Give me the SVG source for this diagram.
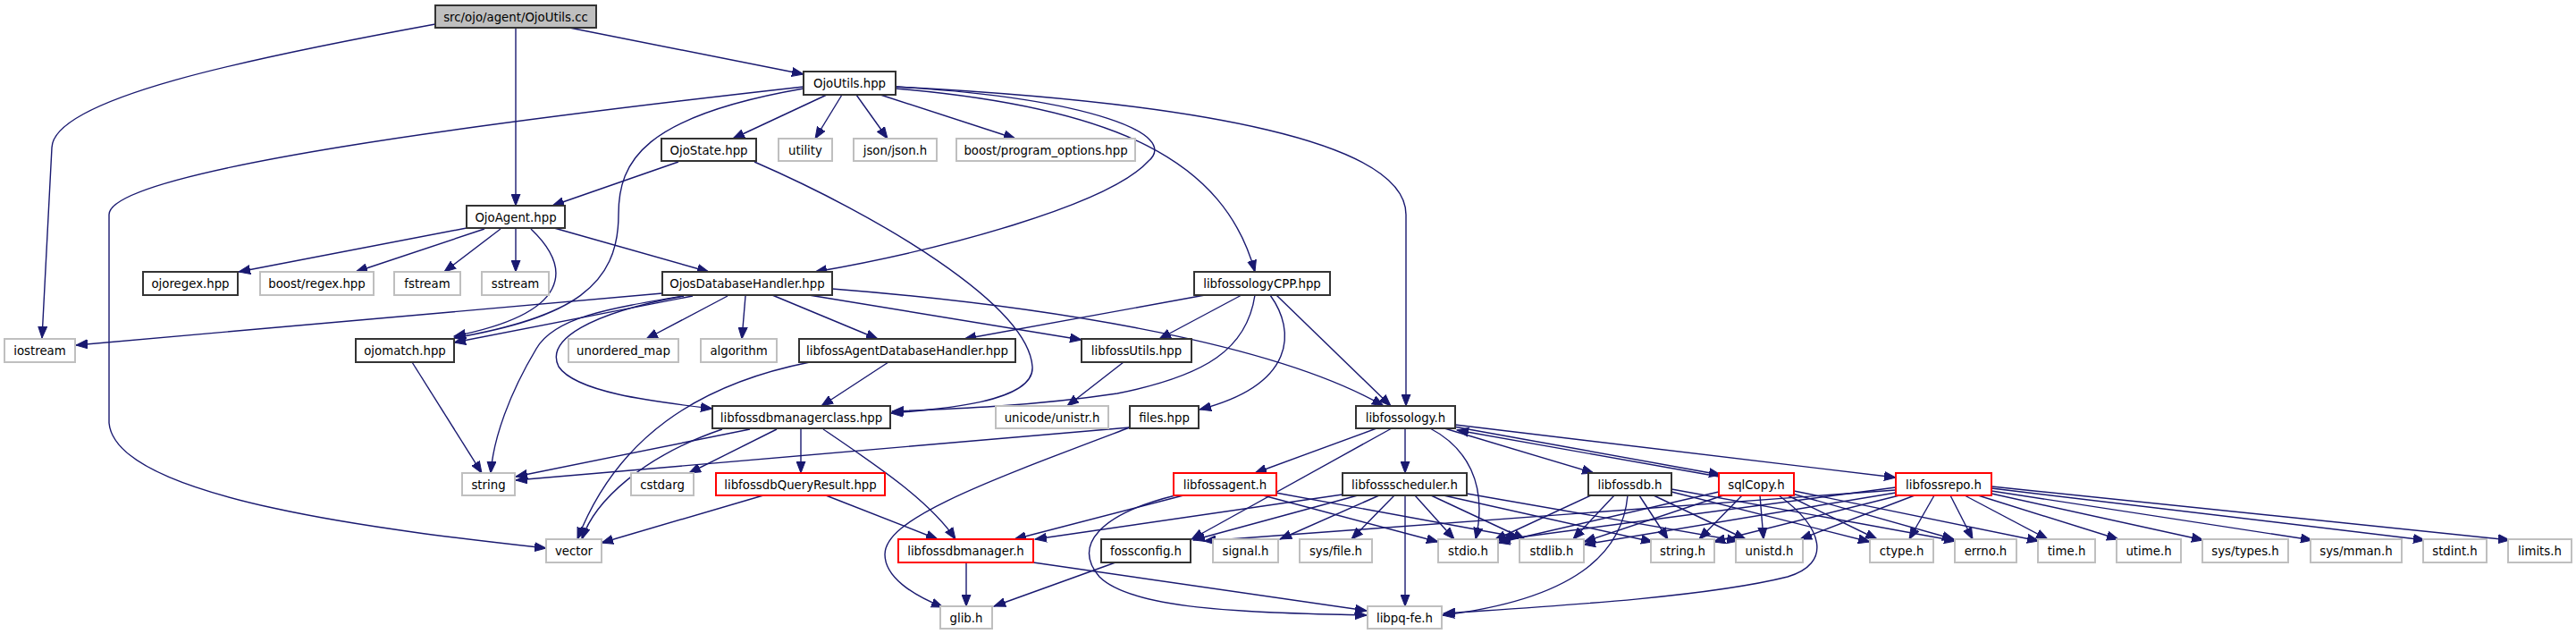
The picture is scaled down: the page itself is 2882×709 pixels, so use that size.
<svg xmlns="http://www.w3.org/2000/svg" width="2882" height="709" viewBox="0 0 2882 709">
<style>
rect{stroke-width:2}
.n{fill:#fff;stroke:#333}
.g{fill:#fff;stroke:#bfbfbf}
.r{fill:#fff;stroke:#ff0000}
.root{fill:#bfbfbf;stroke:#333}
text{font-family:"DejaVu Sans","Liberation Sans",sans-serif;font-size:13.3px;fill:#000;text-anchor:middle}
#edges path{fill:none;stroke:#191970;stroke-width:1.4;marker-end:url(#a)}
</style>
<defs>
<marker id="a" markerUnits="userSpaceOnUse" markerWidth="14" markerHeight="11" refX="13" refY="5.5" orient="auto">
<path d="M0,0.5 L13,5.5 L0,10.5 z" fill="#191970" stroke="#191970" stroke-width="1"/>
</marker>
</defs>
<rect width="2882" height="709" fill="#fff"/>
<g id="edges">
<path d="M487,27 C280,65 60,110 58,165 L47,378"/>
<path d="M577,31 L577,230"/>
<path d="M637,31 L899,83"/>
<path d="M925,106 L820,155"/>
<path d="M942,106 L912,155"/>
<path d="M958,106 L993,155"/>
<path d="M985,106 L1136,155"/>
<path d="M899,97 C560,135 122,190 122,240 L122,473 C130,560 450,595 611,613"/>
<path d="M899,99 C720,130 692,180 692,240 C692,320 640,355 508,378"/>
<path d="M1002,97 C1350,115 1573,160 1573,240 L1573,454"/>
<path d="M1002,99 C1250,120 1370,180 1404,304"/>
<path d="M1002,97 C1220,110 1320,150 1285,180 C1240,230 1050,280 912,304"/>
<path d="M844,181 C980,240 1150,340 1155,410 C1158,450 1050,458 997,462"/>
<path d="M759,181 L618,230"/>
<path d="M522,255 L267,304"/>
<path d="M542,256 L398,304"/>
<path d="M560,256 L497,304"/>
<path d="M577,256 L577,304"/>
<path d="M620,255 L793,304"/>
<path d="M594,256 C640,300 640,350 508,376"/>
<path d="M741,328 L85,386"/>
<path d="M775,331 L508,383"/>
<path d="M765,331 C680,345 620,355 600,390 C570,440 552,490 549,529"/>
<path d="M765,331 C660,350 610,380 625,410 C645,440 740,450 797,457"/>
<path d="M814,331 L723,379"/>
<path d="M834,331 L830,379"/>
<path d="M864,330 L982,379"/>
<path d="M905,330 L1210,380"/>
<path d="M931,323 C1150,340 1420,380 1548,454"/>
<path d="M1348,330 L1079,379"/>
<path d="M1389,330 L1297,379"/>
<path d="M1404,330 C1395,390 1350,420 1250,440 C1150,455 1050,458 998,460"/>
<path d="M1421,330 C1450,370 1450,430 1342,458"/>
<path d="M1428,330 L1556,454"/>
<path d="M994,405 L919,454"/>
<path d="M906,405 C780,430 690,490 646,603"/>
<path d="M1257,405 L1194,454"/>
<path d="M461,405 L539,529"/>
<path d="M839,480 L577,533"/>
<path d="M808,480 C720,510 665,560 651,603"/>
<path d="M869,480 L771,529"/>
<path d="M896,480 L896,529"/>
<path d="M921,480 C980,520 1040,560 1069,603"/>
<path d="M1264,478 L577,537"/>
<path d="M1264,478 C1100,540 990,580 990,620 C990,645 1020,665 1055,679"/>
<path d="M854,554 L673,607"/>
<path d="M924,554 L1049,603"/>
<path d="M1081,629 L1081,678"/>
<path d="M1156,629 L1529,683"/>
<path d="M1248,629 L1112,678"/>
<path d="M1540,479 L1404,529"/>
<path d="M1557,479 L1333,603"/>
<path d="M1572,479 L1572,529"/>
<path d="M1600,479 C1640,500 1665,540 1651,603"/>
<path d="M1616,479 L1783,529"/>
<path d="M1626,477 L1925,531"/>
<path d="M1923,533 L1630,481"/>
<path d="M1628,475 L2121,534"/>
<path d="M1324,554 L1135,603"/>
<path d="M1315,554 C1230,575 1200,610 1230,645 C1270,685 1420,685 1529,688"/>
<path d="M1413,554 L1609,606"/>
<path d="M1427,551 L1700,601"/>
<path d="M1502,553 L1158,603"/>
<path d="M1519,554 L1335,604"/>
<path d="M1543,554 L1432,603"/>
<path d="M1560,554 L1512,603"/>
<path d="M1572,554 L1572,678"/>
<path d="M1583,554 L1627,603"/>
<path d="M1601,554 L1706,603"/>
<path d="M1615,554 L1849,606"/>
<path d="M1641,552 L1945,605"/>
<path d="M1780,554 L1672,604"/>
<path d="M1806,554 L1760,603"/>
<path d="M1821,554 C1815,620 1760,670 1614,688"/>
<path d="M1834,554 L1866,603"/>
<path d="M1850,554 L1953,603"/>
<path d="M1870,550 L2092,606"/>
<path d="M1870,547 L2188,605"/>
<path d="M1923,550 L1676,607"/>
<path d="M1928,554 L1772,606"/>
<path d="M1949,554 L1901,603"/>
<path d="M1969,554 L1973,603"/>
<path d="M1990,554 C2040,590 2050,630 2000,645 C1900,670 1700,680 1615,686"/>
<path d="M2000,554 L2100,603"/>
<path d="M2005,552 L2186,603"/>
<path d="M2007,549 L2281,605"/>
<path d="M2121,548 L1347,605"/>
<path d="M2121,545 L1677,604"/>
<path d="M2121,551 L1772,609"/>
<path d="M2125,554 L1917,606"/>
<path d="M2142,554 L2014,603"/>
<path d="M2164,554 L2136,603"/>
<path d="M2182,554 L2207,603"/>
<path d="M2198,554 L2291,603"/>
<path d="M2213,554 L2370,603"/>
<path d="M2228,552 L2465,604"/>
<path d="M2228,549 L2587,604"/>
<path d="M2228,546 L2713,604"/>
<path d="M2228,544 L2808,604"/>
</g>
<g id="n_root"><rect class="root" x="487" y="6" width="180" height="25"/><text x="577" y="23.5">src/ojo/agent/OjoUtils.cc</text></g>
<g id="n_ojoutils_hpp"><rect class="n" x="899" y="80" width="103" height="26"/><text x="950.5" y="98">OjoUtils.hpp</text></g>
<g id="n_ojostate"><rect class="n" x="740" y="155" width="106" height="25"/><text x="793" y="172.5">OjoState.hpp</text></g>
<g id="n_utility"><rect class="g" x="871" y="155" width="60" height="25"/><text x="901" y="172.5">utility</text></g>
<g id="n_json"><rect class="g" x="955" y="155" width="93" height="25"/><text x="1001.5" y="172.5">json/json.h</text></g>
<g id="n_boostpo"><rect class="g" x="1070" y="155" width="200" height="25"/><text x="1170" y="172.5">boost/program_options.hpp</text></g>
<g id="n_ojoagent"><rect class="n" x="522" y="230" width="110" height="25"/><text x="577" y="247.5">OjoAgent.hpp</text></g>
<g id="n_ojoregex"><rect class="n" x="160" y="304" width="106" height="26"/><text x="213" y="322">ojoregex.hpp</text></g>
<g id="n_boostregex"><rect class="g" x="291" y="304" width="127" height="26"/><text x="354.5" y="322">boost/regex.hpp</text></g>
<g id="n_fstream"><rect class="g" x="441" y="304" width="74" height="26"/><text x="478" y="322">fstream</text></g>
<g id="n_sstream"><rect class="g" x="539" y="304" width="75" height="26"/><text x="576.5" y="322">sstream</text></g>
<g id="n_ojosdb"><rect class="n" x="741" y="304" width="190" height="26"/><text x="836" y="322">OjosDatabaseHandler.hpp</text></g>
<g id="n_libfossologycpp"><rect class="n" x="1336" y="304" width="152" height="26"/><text x="1412" y="322">libfossologyCPP.hpp</text></g>
<g id="n_iostream"><rect class="g" x="5" y="379" width="79" height="26"/><text x="44.5" y="397">iostream</text></g>
<g id="n_ojomatch"><rect class="n" x="398" y="379" width="110" height="26"/><text x="453" y="397">ojomatch.hpp</text></g>
<g id="n_umap"><rect class="g" x="636" y="379" width="123" height="26"/><text x="697.5" y="397">unordered_map</text></g>
<g id="n_algorithm"><rect class="g" x="784" y="379" width="85" height="26"/><text x="826.5" y="397">algorithm</text></g>
<g id="n_lfadbh"><rect class="n" x="894" y="379" width="242" height="26"/><text x="1015" y="397">libfossAgentDatabaseHandler.hpp</text></g>
<g id="n_lfutils"><rect class="n" x="1210" y="379" width="123" height="26"/><text x="1271.5" y="397">libfossUtils.hpp</text></g>
<g id="n_lfdbmc"><rect class="n" x="797" y="454" width="199" height="25"/><text x="896.5" y="471.5">libfossdbmanagerclass.hpp</text></g>
<g id="n_unistr"><rect class="g" x="1114" y="454" width="126" height="25"/><text x="1177" y="471.5">unicode/unistr.h</text></g>
<g id="n_files"><rect class="n" x="1264" y="454" width="77" height="25"/><text x="1302.5" y="471.5">files.hpp</text></g>
<g id="n_libfossology"><rect class="n" x="1517" y="454" width="111" height="25"/><text x="1572.5" y="471.5">libfossology.h</text></g>
<g id="n_string"><rect class="g" x="517" y="529" width="59" height="25"/><text x="546.5" y="546.5">string</text></g>
<g id="n_cstdarg"><rect class="g" x="706" y="529" width="70" height="25"/><text x="741" y="546.5">cstdarg</text></g>
<g id="n_lfdbqr"><rect class="r" x="801" y="529" width="189" height="25"/><text x="895.5" y="546.5">libfossdbQueryResult.hpp</text></g>
<g id="n_lfagent"><rect class="r" x="1313" y="529" width="115" height="25"/><text x="1370.5" y="546.5">libfossagent.h</text></g>
<g id="n_lfsched"><rect class="n" x="1502" y="529" width="139" height="25"/><text x="1571.5" y="546.5">libfossscheduler.h</text></g>
<g id="n_lfdb"><rect class="n" x="1777" y="529" width="93" height="25"/><text x="1823.5" y="546.5">libfossdb.h</text></g>
<g id="n_sqlcopy"><rect class="r" x="1923" y="529" width="84" height="25"/><text x="1965" y="546.5">sqlCopy.h</text></g>
<g id="n_lfrepo"><rect class="r" x="2121" y="529" width="107" height="25"/><text x="2174.5" y="546.5">libfossrepo.h</text></g>
<g id="n_vector"><rect class="g" x="611" y="603" width="62" height="26"/><text x="642" y="621">vector</text></g>
<g id="n_lfdbm"><rect class="r" x="1005" y="603" width="151" height="26"/><text x="1080.5" y="621">libfossdbmanager.h</text></g>
<g id="n_fossconfig"><rect class="n" x="1232" y="603" width="100" height="26"/><text x="1282" y="621">fossconfig.h</text></g>
<g id="n_signal"><rect class="g" x="1357" y="603" width="73" height="26"/><text x="1393.5" y="621">signal.h</text></g>
<g id="n_sysfile"><rect class="g" x="1454" y="603" width="81" height="26"/><text x="1494.5" y="621">sys/file.h</text></g>
<g id="n_stdio"><rect class="g" x="1609" y="603" width="67" height="26"/><text x="1642.5" y="621">stdio.h</text></g>
<g id="n_stdlib"><rect class="g" x="1700" y="603" width="72" height="26"/><text x="1736" y="621">stdlib.h</text></g>
<g id="n_stringh"><rect class="g" x="1847" y="603" width="71" height="26"/><text x="1882.5" y="621">string.h</text></g>
<g id="n_unistd"><rect class="g" x="1942" y="603" width="75" height="26"/><text x="1979.5" y="621">unistd.h</text></g>
<g id="n_ctype"><rect class="g" x="2092" y="603" width="71" height="26"/><text x="2127.5" y="621">ctype.h</text></g>
<g id="n_errno"><rect class="g" x="2187" y="603" width="69" height="26"/><text x="2221.5" y="621">errno.h</text></g>
<g id="n_time"><rect class="g" x="2280" y="603" width="64" height="26"/><text x="2312" y="621">time.h</text></g>
<g id="n_utime"><rect class="g" x="2368" y="603" width="72" height="26"/><text x="2404" y="621">utime.h</text></g>
<g id="n_systypes"><rect class="g" x="2464" y="603" width="96" height="26"/><text x="2512" y="621">sys/types.h</text></g>
<g id="n_sysmman"><rect class="g" x="2585" y="603" width="102" height="26"/><text x="2636" y="621">sys/mman.h</text></g>
<g id="n_stdint"><rect class="g" x="2711" y="603" width="71" height="26"/><text x="2746.5" y="621">stdint.h</text></g>
<g id="n_limits"><rect class="g" x="2806" y="603" width="71" height="26"/><text x="2841.5" y="621">limits.h</text></g>
<g id="n_glib"><rect class="g" x="1052" y="678" width="58" height="25"/><text x="1081" y="695.5">glib.h</text></g>
<g id="n_libpq"><rect class="g" x="1530" y="678" width="83" height="25"/><text x="1571.5" y="695.5">libpq-fe.h</text></g>
</svg>
